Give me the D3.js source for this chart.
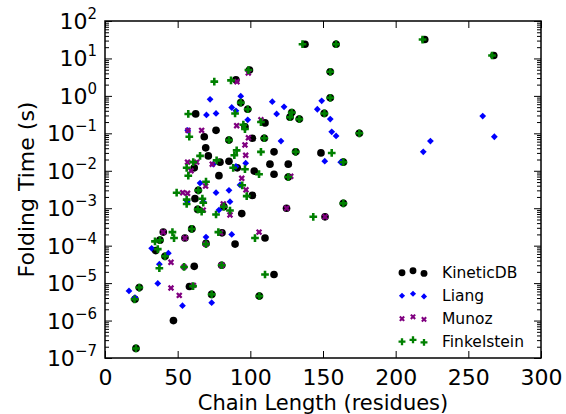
<!DOCTYPE html>
<html>
<head>
<meta charset="utf-8">
<script src="https://cdnjs.cloudflare.com/ajax/libs/d3/7.8.5/d3.min.js"></script>
<style>
	body { margin: 0; background: #fff; }
	svg { font-family: "DejaVu Sans", sans-serif; }
</style>
</head>
<body>
<svg id="viz" width="566" height="414"></svg>
<script>

// [chain length (residues), folding time (s)] for each source
const kineticDB = [[137.6,24],[99.4,4.9],[90.1,2.7],[62.4,0.33],[93.4,0.66],[98.2,0.44],[128.5,0.36],[150.9,0.34],
	[110.1,0.19],[96.3,0.15],[76.4,0.12],[68.3,0.081],[85.3,0.066],[101.4,0.074],[109.6,0.074],[69.3,0.041],
	[116.3,0.032],[131.2,0.032],[148.6,0.030],[71.1,0.025],[79.1,0.017],[85.3,0.018],[61.4,0.012],[113.5,0.015],
	[126.1,0.015],[164,0.017],[91,0.012],[102.7,0.0098],[116.3,0.0081],[126.1,0.0068],[78.4,0.0074],[175,0.10],
	[64.2,0.0030],[61.9,0.0018],[101.4,0.0022],[63.8,9.3e-4],[81.7,1.1e-3],[94.1,7.2e-4],[124.9,1.0e-3],
	[151.4,5.9e-4],[164,1.35e-3],[59.7,2.8e-4],[40.1,2.3e-4],[55,1.6e-4],[80.5,2.2e-4],[110.1,1.6e-4],
	[89.5,1.1e-4],[37.8,1.4e-4],[34.9,7.4e-5],[41.3,5.2e-5],[61.4,2.8e-5],[80.3,3.0e-5],[116.3,1.7e-5],
	[58.1,8.1e-6],[73.4,5.0e-6],[23.6,7.6e-6],[20.6,3.7e-6],[106.2,4.5e-6],[47.1,1.0e-6],[21.3,1.8e-7],
	[220,32],[267.5,12],[159,24],[155,4.4],[155,0.89],[69.5,1.15e-4],[127.3,0.27],[133.7,0.24]];

const liang = [[72.3,0.81],[93.4,0.98],[115.1,0.70],[123.2,0.51],[118.1,0.33],[87.2,0.49],[90.1,0.40],
	[76.4,0.34],[69.8,0.31],[98.2,0.23],[149.1,0.74],[146.1,0.44],[155,0.24],[156,0.11],[159,0.085],
	[121.1,0.062],[56.9,0.12],[96.8,0.016],[90.1,0.013],[74.5,0.015],[151.2,0.018],[162.2,0.017],
	[259.9,0.29],[267.9,0.081],[223.9,0.062],[219,0.032],[65.4,0.0047],[92.9,0.0042],[76.4,0.0026],
	[85.3,0.0030],[86,0.0015],[56.6,0.0015],[67.6,0.0015],[78.4,8.9e-4],[69.5,1.7e-4],[87.2,2.0e-4],
	[32.1,8.5e-5],[43.6,6.3e-5],[37.4,3.2e-5],[36.3,9.8e-6],[16.5,6.2e-6],[20.6,4.1e-6],[53.3,2.5e-6],
	[73.4,3.0e-6]];

const munoz = [[98.6,4.1],[90.8,2.4],[107.3,0.23],[90.6,0.16],[57.1,0.12],[66.5,0.12],[98.7,0.076],
	[96.3,0.049],[96.8,0.026],[56.8,0.017],[63.1,0.017],[59.2,0.010],[73.8,0.015],[127.8,0.0071],
	[94.1,0.0063],[69.2,0.0039],[97,0.0031],[53.5,0.0026],[56.8,0.0025],[67.6,8.9e-4],[81.4,1.3e-3],
	[86,6.6e-4],[125,1.0e-3],[151.4,5.9e-4],[40.1,2.3e-4],[55,1.6e-4],[79.5,2.2e-4],[106,2.3e-4],
	[69.3,1.1e-4],[45.4,3.6e-5],[54.4,2.7e-5],[45.4,7.4e-6],[60.8,8.7e-6],[51.1,4.7e-6],[80.3,3.0e-5]];

const finkelstein = [[135.9,24],[159,24],[98.7,4.9],[86.7,2.6],[75.2,2.4],[218.5,32],[266.3,12],[155,4.4],
	[155,0.89],[93.4,0.66],[98.2,0.44],[89.5,0.34],[57.3,0.33],[128.5,0.36],[127.3,0.27],[133.7,0.24],
	[151,0.34],[107.3,0.20],[95.2,0.17],[96.3,0.13],[58,0.081],[85.3,0.066],[109.6,0.074],[90.6,0.035],
	[89,0.026],[107.3,0.032],[131.2,0.032],[156,0.030],[65.4,0.025],[76.8,0.019],[60.7,0.017],[56.2,0.012],
	[57.3,0.0074],[88.2,0.012],[96.3,0.011],[106,0.0081],[126.1,0.0068],[164,0.017],[175,0.10],[69.5,0.0051],
	[94.4,0.0041],[97.5,0.0021],[64.2,0.0030],[49.3,0.0026],[56.2,0.0017],[56.2,0.0013],[67,0.0018],
	[67.6,0.0014],[63.8,9.3e-4],[66.5,8.1e-4],[76.4,6.8e-4],[81.7,1.1e-3],[86,8.7e-4],[143.3,5.9e-4],
	[164,1.35e-3],[59.7,2.8e-4],[46.4,2.3e-4],[47.5,1.6e-4],[37.8,1.4e-4],[34.4,1.3e-4],[78,2.3e-4],
	[103.2,1.6e-4],[69.5,1.1e-4],[36.3,8.1e-5],[41.3,5.2e-5],[37.4,2.5e-5],[54.4,2.7e-5],[80.3,3.0e-5],
	[110.1,1.7e-5],[60.6,8.3e-6],[23.6,7.6e-6],[20.3,3.7e-6],[73.4,5.0e-6],[106.2,4.5e-6],[21.3,1.8e-7]];

const seriesNames = ["KineticDB", "Liang", "Munoz", "Finkelstein"];
const xTicks = [0, 50, 100, 150, 200, 250, 300];
const yExponents = [-7, -6, -5, -4, -3, -2, -1, 0, 1, 2];


let drawEverything = function() {

	const margin = {
		top:	21,
		right:	25,
		bottom: 56,
		left:	105
	};

	let svg = d3.select("body").select("svg#viz");
	let plotWidth = +svg.attr("width") - margin.left - margin.right;
	let plotHeight = +svg.attr("height") - margin.top - margin.bottom;

	let xScale = d3.scaleLinear()
		.domain([0, 300])
		.range([0, plotWidth]);

	let yScale = d3.scaleLog()
		.domain([1e-7, 1e2])
		.range([plotHeight, 0]);

	let plot = svg.append("g").attr("id", "plot")
		.attr("transform", `translate(${margin.left}, ${margin.top})`);

	// major + minor ticks for the log axis
	let yMajor = yExponents.map(e => Math.pow(10, e));
	let yMinor = [];
	yExponents.slice(0, -1).forEach(function(e) {
		for (let j = 2; j <= 9; j++) yMinor.push(j * Math.pow(10, e));
	});

	drawAxes();
	drawPoints();
	drawLegend();

	function drawAxes() {
		// ticks point inward on all four sides
		let xBottom = plot.append("g").attr("class", "x-axis")
			.attr("transform", `translate(0, ${plotHeight})`)
			.call(d3.axisBottom(xScale).tickValues(xTicks).tickSize(-7).tickPadding(11));
		plot.append("g").attr("class", "x-axis")
			.call(d3.axisTop(xScale).tickValues(xTicks).tickSize(-7).tickFormat(""));

		plot.append("g").attr("class", "y-axis")
			.call(d3.axisLeft(yScale).tickValues(yMajor).tickSize(-7).tickFormat(""));
		plot.append("g").attr("class", "y-axis")
			.call(d3.axisLeft(yScale).tickValues(yMinor).tickSize(-4).tickFormat(""));
		plot.append("g").attr("class", "y-axis")
			.attr("transform", `translate(${plotWidth}, 0)`)
			.call(d3.axisRight(yScale).tickValues(yMajor).tickSize(-7).tickFormat(""));
		plot.append("g").attr("class", "y-axis")
			.attr("transform", `translate(${plotWidth}, 0)`)
			.call(d3.axisRight(yScale).tickValues(yMinor).tickSize(-4).tickFormat(""));

		plot.selectAll(".domain").remove();
		plot.selectAll(".tick line").attr("stroke", "#000").attr("stroke-width", 1);

		xBottom.selectAll("text")
			.attr("font-size", 22)
			.attr("font-family", "DejaVu Sans")
			.attr("fill", "#000");

		// 10^n labels
		let yLabels = plot.append("g").attr("class", "y-labels")
			.selectAll("text")
			.data(yExponents)
			.enter().append("text")
			.attr("x", -8)
			.attr("y", d => yScale(Math.pow(10, d)) + 8)
			.attr("text-anchor", "end")
			.attr("font-size", 22);
		yLabels.append("tspan").text("10");
		yLabels.append("tspan")
			.attr("dy", -10)
			.attr("font-size", 15)
			.text(d => String(d).replace("-", "\u2212"));

		// frame
		plot.append("rect")
			.attr("width", plotWidth)
			.attr("height", plotHeight)
			.attr("fill", "none")
			.attr("stroke", "#000")
			.attr("stroke-width", 1.5);

		svg.append("text")
			.attr("class", "axis-title")
			.attr("x", margin.left + plotWidth / 2)
			.attr("y", 409.5)
			.attr("text-anchor", "middle")
			.attr("font-size", 21)
			.text("Chain Length (residues)");

		svg.append("text")
			.attr("class", "axis-title")
			.attr("transform", `translate(34, ${margin.top + plotHeight / 2}) rotate(-90)`)
			.attr("text-anchor", "middle")
			.attr("font-size", 22)
			.text("Folding Time (s)");
	}

	function markerFor(name) {
		if (name == "KineticDB") return {d: d3.symbol(d3.symbolCircle, 46)(), fill: "#000000", rot: 0};
		if (name == "Liang") return {d: d3.symbol(d3.symbolSquare, 23)(), fill: "#0000ff", rot: 45};
		if (name == "Munoz") return {d: d3.symbol(d3.symbolCross, 26)(), fill: "#800080", rot: 45};
		return {d: d3.symbol(d3.symbolCross, 33)(), fill: "#008000", rot: 0};
	}

	function drawPoints() {
		let allData = [kineticDB, liang, munoz, finkelstein];
		seriesNames.forEach(function(name, i) {
			let m = markerFor(name);
			plot.append("g").attr("class", "series")
				.selectAll("path")
				.data(allData[i])
				.enter().append("path")
				.attr("d", m.d)
				.attr("fill", m.fill)
				.attr("transform", d => `translate(${xScale(d[0])}, ${yScale(d[1])}) rotate(${m.rot})`);
		});
	}

	function drawLegend() {
		let legend = svg.append("g").attr("id", "legend");
		let markerX = [402, 413, 424];
		let jitter = [0.7, -1.2, 1.4];

		seriesNames.forEach(function(name, i) {
			let cy = 272 + i * 23;
			let m = markerFor(name);
			legend.selectAll("path.s" + i)
				.data(markerX)
				.enter().append("path")
				.attr("class", "s" + i)
				.attr("d", m.d)
				.attr("fill", m.fill)
				.attr("transform", (d, j) => `translate(${d}, ${cy + jitter[j]}) rotate(${m.rot}) scale(0.9)`);
			legend.append("text")
				.attr("class", "legend-labels")
				.attr("x", 442)
				.attr("y", cy + 5.5)
				.attr("font-size", 15.5)
				.text(name);
		});
	}
};

drawEverything();
</script>
</body>
</html>
